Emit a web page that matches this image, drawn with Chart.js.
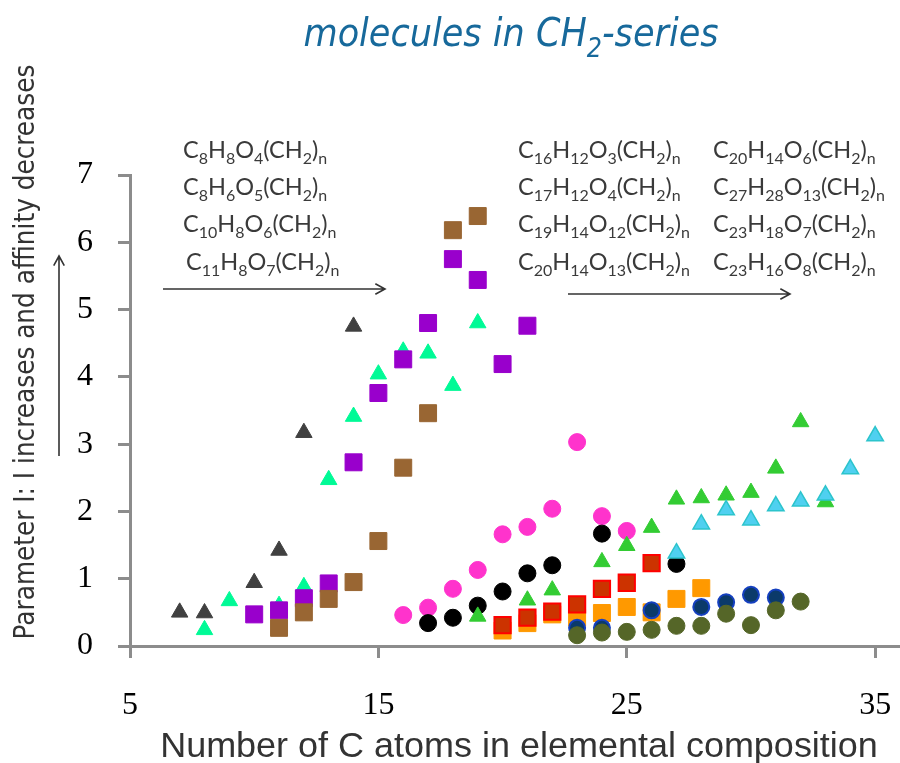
<!DOCTYPE html>
<html>
<head>
<meta charset="utf-8">
<script src="https://cdn.jsdelivr.net/npm/chart.js@4"></script>
<style>
  html, body { margin: 0; padding: 0; background: #fff; overflow: hidden; }
  #wrap { width: 900px; height: 763px; position: relative; }
  canvas { display: block; }
</style>
</head>
<body>
<div id="wrap"><canvas id="myChart"></canvas></div>
<script>
// x = number of C atoms, y = parameter I
var xTicks = [5, 15, 25, 35];

var darkGrayX = [7, 8, 10, 11, 12, 14];
var darkGrayY = [0.50, 0.49, 0.94, 1.42, 3.17, 4.75];

var springX = [8, 9, 11, 12, 13, 14, 15, 16, 17, 18, 19];
var springY = [0.24, 0.67, 0.60, 0.88, 2.47, 3.41, 4.04, 4.38, 4.35, 3.87, 4.80];

var purpleX = [10, 11, 12, 13, 14, 15, 16, 17, 18, 19, 20, 21];
var purpleY = [0.47, 0.53, 0.71, 0.93, 2.73, 3.76, 4.26, 4.80, 5.75, 5.44, 4.19, 4.76];

var brownX = [11, 12, 13, 14, 15, 16, 17, 18, 19];
var brownY = [0.27, 0.50, 0.70, 0.95, 1.56, 2.65, 3.46, 6.18, 6.39];

var pinkX = [16, 17, 18, 19, 20, 21, 22, 23, 24, 25];
var pinkY = [0.46, 0.57, 0.85, 1.13, 1.66, 1.77, 2.04, 3.03, 1.93, 1.71];

var blackX = [17, 18, 19, 20, 21, 22, 24, 27];
var blackY = [0.34, 0.42, 0.60, 0.81, 1.08, 1.20, 1.67, 1.22];

var greenX = [19, 21, 22, 24, 25, 26, 27, 28, 29, 30, 31, 32, 33];
var greenY = [0.44, 0.68, 0.83, 1.25, 1.49, 1.76, 2.18, 2.20, 2.24, 2.28, 2.64, 3.33, 2.14];

var cyanX = [27, 28, 29, 30, 31, 32, 33, 34, 35];
var cyanY = [1.38, 1.81, 2.02, 1.87, 2.08, 2.15, 2.24, 2.63, 3.12];

var redX = [20, 21, 22, 23, 24, 25, 26];
var redY = [0.31, 0.42, 0.51, 0.62, 0.85, 0.94, 1.23];

var orangeX = [20, 21, 22, 23, 24, 25, 26, 27, 28];
var orangeY = [0.23, 0.34, 0.47, 0.42, 0.49, 0.58, 0.50, 0.70, 0.86];

var navyX = [23, 24, 26, 28, 29, 30, 31];
var navyY = [0.27, 0.27, 0.53, 0.58, 0.65, 0.76, 0.72];

var oliveX = [23, 24, 25, 26, 27, 28, 29, 30, 31, 32];
var oliveY = [0.16, 0.20, 0.21, 0.24, 0.30, 0.30, 0.48, 0.31, 0.53, 0.66];

var leftFormulas = ["C_8H_8O_4(CH_2)_n", "C_8H_6O_5(CH_2)_n", "C_10H_8O_6(CH_2)_n", "C_11H_8O_7(CH_2)_n"];
var midFormulas = ["C_16H_12O_3(CH_2)_n", "C_17H_12O_4(CH_2)_n", "C_19H_14O_12(CH_2)_n", "C_20H_14O_13(CH_2)_n"];
var rightFormulas = ["C_20H_14O_6(CH_2)_n", "C_27H_28O_13(CH_2)_n", "C_23H_18O_7(CH_2)_n", "C_23H_16O_8(CH_2)_n"];

var titleText = "molecules in CH_2-series";
var xTitle = "Number of C atoms in elemental composition";
var yTitle = "Parameter I: I increases and affinity decreases";

function pts(xs, ys) {
  return xs.map(function (x, i) { return { x: x, y: ys[i] }; });
}

function series(label, xs, ys, style, fill, border, bw, r) {
  return {
    label: label,
    data: pts(xs, ys),
    pointStyle: style,
    backgroundColor: fill,
    borderColor: border,
    borderWidth: bw,
    pointRadius: r,
    pointHoverRadius: r,
    showLine: false
  };
}

// first dataset is drawn on top
var datasets = [
  series("olive", oliveX, oliveY, "circle", "#556628", "#556628", 1, 8.5),
  series("navy", navyX, navyY, "circle", "#0b3a6a", "#1540c0", 2, 8),
  series("red", redX, redY, "rect", "#cc3300", "#ff0000", 2, 11.5),
  series("orange", orangeX, orangeY, "rect", "#ff9900", "#ff9900", 1, 12),
  series("cyan", cyanX, cyanY, "triangle", "#4fd0f0", "#2cc4cc", 1.5, 9.5),
  series("green", greenX, greenY, "triangle", "#33cc33", "#33cc33", 1, 9.5),
  series("black", blackX, blackY, "circle", "#000000", "#000000", 1, 8.5),
  series("pink", pinkX, pinkY, "circle", "#ff33cc", "#ff33cc", 1, 8.5),
  series("brown", brownX, brownY, "rect", "#996633", "#996633", 1, 12),
  series("purple", purpleX, purpleY, "rect", "#9900cc", "#9900cc", 1, 12),
  series("spring", springX, springY, "triangle", "#00fa96", "#00fa96", 1, 9.5),
  series("darkgray", darkGrayX, darkGrayY, "triangle", "#404040", "#404040", 1, 9.5)
];

function drawRich(ctx, text, x, y, size, family, style, align) {
  var parts = text.split(/_(\d+|n)/);
  var sub = 0.68;
  var w = 0;
  parts.forEach(function (p, i) {
    ctx.font = style + " " + (i % 2 ? size * sub : size) + "px " + family;
    w += ctx.measureText(p).width;
  });
  var cx = align === "center" ? x - w / 2 : x;
  parts.forEach(function (p, i) {
    var s = i % 2 ? size * sub : size;
    ctx.font = style + " " + s + "px " + family;
    ctx.fillText(p, cx, i % 2 ? y + size * 0.27 : y);
    cx += ctx.measureText(p).width;
  });
  return w;
}

function fitSize(ctx, text, family, style, target) {
  ctx.font = style + " 100px " + family;
  return 100 * target / ctx.measureText(text).width;
}

function arrow(ctx, x1, y1, x2, y2) {
  var a = Math.atan2(y2 - y1, x2 - x1);
  var h = 11;
  ctx.beginPath();
  ctx.moveTo(x1, y1);
  ctx.lineTo(x2, y2);
  ctx.moveTo(x2 - h * Math.cos(a - 0.5), y2 - h * Math.sin(a - 0.5));
  ctx.lineTo(x2, y2);
  ctx.lineTo(x2 - h * Math.cos(a + 0.5), y2 - h * Math.sin(a + 0.5));
  ctx.stroke();
}

var textPlugin = {
  id: "textPlugin",
  afterDraw: function (chart) {
    var ctx = chart.ctx;
    ctx.save();
    ctx.textBaseline = "alphabetic";
    ctx.textAlign = "left";

    // title
    var tFam = "'DejaVu Sans Condensed', 'DejaVu Sans', sans-serif";
    ctx.fillStyle = "#17699b";
    drawRich(ctx, titleText, 511, 46, 39, tFam, "oblique", "center");

    // formulas
    var fFam = "Lato, 'Open Sans', sans-serif";
    ctx.fillStyle = "#3a3a3a";
    var fs = 23.5;
    var rows = [158, 195, 232, 270];
    var leftX = [183, 183, 183, 186];
    rows.forEach(function (by, i) {
      drawRich(ctx, leftFormulas[i], leftX[i], by, fs, fFam, "normal", "left");
      drawRich(ctx, midFormulas[i], 518, by, fs, fFam, "normal", "left");
      drawRich(ctx, rightFormulas[i], 713, by, fs, fFam, "normal", "left");
    });

    // arrows
    ctx.strokeStyle = "#333";
    ctx.lineWidth = 1.6;
    arrow(ctx, 163, 289, 385, 289);
    arrow(ctx, 568, 294, 790, 294);
    arrow(ctx, 59, 456, 59, 256);

    // axis titles
    var aFam = "'Liberation Sans Narrow', 'Liberation Sans', sans-serif";
    ctx.fillStyle = "#333";
    var xs = fitSize(ctx, xTitle, aFam, "normal", 718);
    ctx.font = xs + "px " + aFam;
    ctx.textAlign = "center";
    ctx.fillText(xTitle, 519, 757);

    var yFam = "'DejaVu Sans Condensed', 'DejaVu Sans', sans-serif";
    var ys = fitSize(ctx, yTitle, yFam, "normal", 575);
    ctx.translate(34, 352);
    ctx.rotate(-Math.PI / 2);
    ctx.font = ys + "px " + yFam;
    ctx.fillText(yTitle, 0, 0);
    ctx.restore();
  }
};

new Chart("myChart", {
  type: "scatter",
  data: { datasets: datasets },
  plugins: [textPlugin],
  options: {
    responsive: true,
    maintainAspectRatio: false,
    animation: false,
    layout: { autoPadding: false, padding: { top: 175, right: 0, bottom: 0, left: 0 } },
    plugins: {
      legend: { display: false },
      tooltip: { enabled: false },
      title: { display: false }
    },
    scales: {
      x: {
        type: "linear",
        min: 5,
        max: 36,
        afterBuildTicks: function (scale) {
          scale.ticks = xTicks.map(function (v) { return { value: v }; });
        },
        afterFit: function (scale) {
          scale.height = 117;
          scale.paddingRight = 0;
          scale.paddingLeft = 0;
        },
        grid: { drawOnChartArea: false, drawTicks: true, tickLength: 12, color: "#8c8c8c", lineWidth: 3 },
        border: { display: true, color: "#8c8c8c", width: 3 },
        ticks: {
          maxRotation: 0,
          padding: 28,
          color: "#000",
          font: { family: "'Liberation Serif', serif", size: 32 }
        }
      },
      y: {
        min: 0,
        max: 7,
        afterFit: function (scale) { scale.width = 130; },
        grid: { drawOnChartArea: false, drawTicks: true, tickLength: 12, color: "#8c8c8c", lineWidth: 3 },
        border: { display: true, color: "#8c8c8c", width: 3 },
        ticks: {
          stepSize: 1,
          padding: 25,
          color: "#000",
          font: { family: "'Liberation Serif', serif", size: 32 }
        }
      }
    }
  }
});
</script>
</body>
</html>
